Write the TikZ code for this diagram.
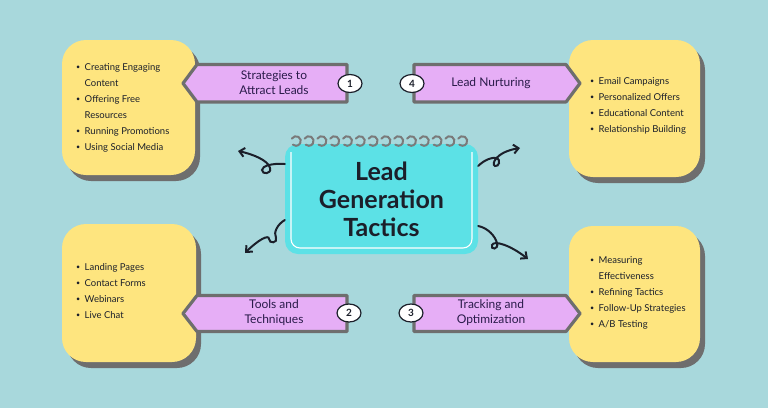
\documentclass[tikz,border=0pt]{standalone}
\usepackage{fontspec}
\setmainfont{Lato}
\usetikzlibrary{arrows.meta,shapes.geometric}
\definecolor{bg}{HTML}{A8D8DC}
\definecolor{yel}{HTML}{FEE57F}
\definecolor{shad}{HTML}{6E6E6E}
\definecolor{pinkf}{HTML}{E6AEF6}
\definecolor{cyanf}{HTML}{5CE1E6}
\definecolor{ink}{HTML}{1B1F2A}
\definecolor{navy}{HTML}{2A1B4A}
\definecolor{ring}{HTML}{7A7A7A}
\newcommand{\bul}{\makebox[8.5pt][l]{\raisebox{0.6pt}{\scalebox{0.75}{•}}}}
\newcommand{\ind}{\hspace*{8.5pt}}
\tikzset{
  ybox/.style={fill=yel, rounded corners=24pt},
  yshad/.style={fill=shad, rounded corners=24pt},
  tag/.style={fill=pinkf, draw=shad, line width=3.2pt, line join=round},
  tagtext/.style={font=\fontsize{12}{15}\selectfont, text=navy, align=center, inner sep=0},
  num/.style={ellipse, fill=white, draw=ink, line width=1.2pt, minimum width=24pt, minimum height=18pt, inner sep=0, font=\fontsize{10}{10}\selectfont\bfseries, text=ink},
  listtext/.style={anchor=north west, inner sep=0, align=left, font=\fontsize{9.5}{16}\selectfont, text=ink},
  curl/.style={draw=ink, line width=2pt, line cap=round, -{Straight Barb[length=5pt,width=9pt]}},
  ringarc/.style={draw=ring, line width=2pt, line cap=round}
}
\begin{document}
\begin{tikzpicture}[x=1pt,y=-1pt]
\fill[bg] (0,0) rectangle (768,408);
\useasboundingbox (0,0) rectangle (768,408);

% yellow boxes with shadows
\fill[yshad] (67,46) rectangle (200,181);
\fill[ybox] (62,40) rectangle (195,175);
\fill[yshad] (574,46) rectangle (705,183);
\fill[ybox] (569,40) rectangle (700,177);
\fill[yshad] (67,230) rectangle (201,368);
\fill[ybox] (62,224) rectangle (196,362);
\fill[yshad] (574,232) rectangle (705,368);
\fill[ybox] (569,226) rectangle (700,362);

% pink tags
\draw[tag] (197,64.5) -- (347,64.5) -- (347,102) -- (197,102) -- (183,83.3) -- cycle;
\draw[tag] (197,295.5) -- (347,295.5) -- (347,331.5) -- (197,331.5) -- (183,313.5) -- cycle;
\draw[tag] (414,64.5) -- (566,64.5) -- (580,83.3) -- (566,102) -- (414,102) -- cycle;
\draw[tag] (414,295.5) -- (566,295.5) -- (580,313.5) -- (566,331.5) -- (414,331.5) -- cycle;

\node[tagtext] (l1) at (274,83) {Strategies to\\Attract Leads};
\node[tagtext] (l4) at (491,83) {Lead Nurturing};
\node[tagtext] (l2) at (274,313) {Tools and\\Techniques};
\node[tagtext] (l3) at (491,313) {Tracking and\\Optimization};

\node[num] (n1) at (350,83.5) {1};
\node[num] (n4) at (412,83.5) {4};
\node[num] (n2) at (349,313) {2};
\node[num] (n3) at (411,313) {3};

% lists
\node[listtext] (t1) at (76,63) {\bul Creating Engaging\\\ind Content\\\bul Offering Free\\\ind Resources\\\bul Running Promotions\\\bul Using Social Media};
\node[listtext] (t4) at (590,77) {\bul Email Campaigns\\\bul Personalized Offers\\\bul Educational Content\\\bul Relationship Building};
\node[listtext] (t2) at (76,263) {\bul Landing Pages\\\bul Contact Forms\\\bul Webinars\\\bul Live Chat};
\node[listtext] (t3) at (590,256) {\bul Measuring\\\ind Effectiveness\\\bul Refining Tactics\\\bul Follow-Up Strategies\\\bul A/B Testing};

% center box
\node[fill=cyanf, rounded corners=13pt, minimum width=193pt, minimum height=110pt, inner sep=0,
      font=\fontsize{25}{28}\selectfont\bfseries, text=ink, align=center] (cbox) at (381.5,199) {Lead\\Generation\\Tactics};
\draw[white, line width=1.1pt, rounded corners=9pt] (291,152) -- (291,248) -- (472,248) -- (472,152);
\foreach \i in {0,...,13}{
  \draw[ringarc] (296+12.8*\i,141) ++(-150:4.8) arc[start angle=-150, end angle=130, radius=4.8];
}

% curly arrows
\coordinate (e1) at (238,151);
\coordinate (e4) at (520,148);
\coordinate (e2) at (245,253);
\coordinate (e3) at (528,259);
\draw[curl] ([yshift=35pt]cbox.west) .. controls (272,163) and (262,166) .. (262,170) .. controls (262,175) and (272,174) .. (270,168) .. controls (268,160) and (252,154) .. (e1);
\draw[curl] ([yshift=33pt]cbox.east) .. controls (484,160) and (492,157) .. (497,158) .. controls (501,160) and (499,167) .. (495,166) .. controls (491,164) and (496,152) .. (e4);
\draw[curl] ([yshift=-21pt]cbox.west) .. controls (278,224) and (273,232) .. (276,238) .. controls (278,243) and (269,244) .. (269,239) .. controls (269,234) and (258,240) .. (e2);
\draw[curl] ([yshift=-27pt]cbox.east) .. controls (488,228) and (495,236) .. (497,243) .. controls (499,250) and (490,250) .. (492,245) .. controls (494,240) and (510,245) .. (e3);
\end{tikzpicture}
\end{document}
